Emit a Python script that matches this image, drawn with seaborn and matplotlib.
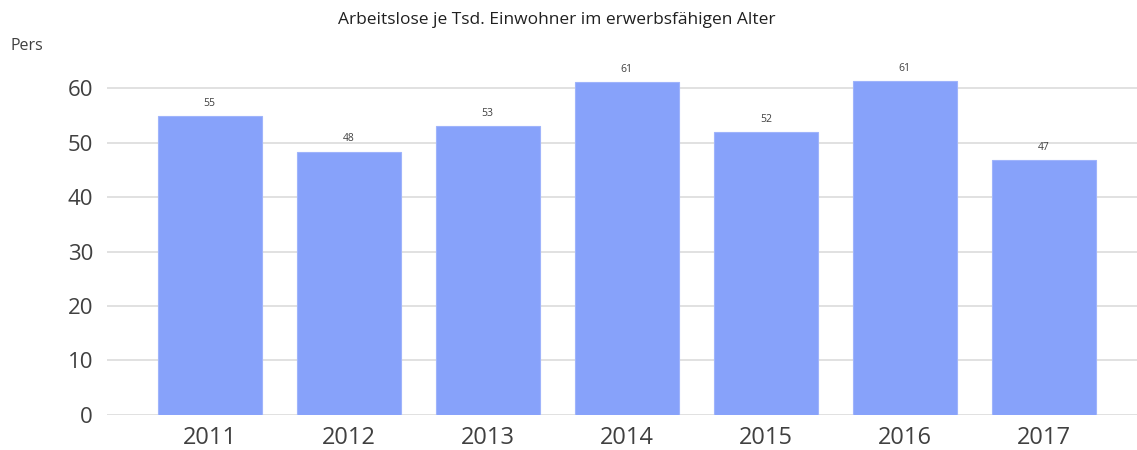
import pandas as pd
import matplotlib.pyplot as plt
import seaborn as sns

years = ["2011", "2012", "2013", "2014", "2015", "2016", "2017"]
values = [54.9, 48.3, 53.0, 61.1, 51.9, 61.3, 46.8]
labels = ["55", "48", "53", "61", "52", "61", "47"]

d = pd.DataFrame({"year": years, "value": values})

sns.set_style("white")
plt.rcParams['font.family'] = ['Open Sans', 'DejaVu Sans']

fig = plt.figure(figsize=(11.37, 4.5), dpi=100)
ax = fig.add_axes([0.094, 0.078, 0.906, 0.786])

sns.barplot(data=d, x="year", y="value", color="#87a2fa", saturation=1,
            width=0.75, ax=ax, zorder=3)
for p in ax.patches:
    p.set_edgecolor("#9fb4fb")
    p.set_linewidth(0.8)

for i, (v, lab) in enumerate(zip(values, labels)):
    ax.text(i, v + 1.4, lab, ha="center", va="bottom", fontsize=7.5, color="#404040")

ax.set_ylim(0, 65)
ax.set_xlim(-0.74, 6.67)
ax.set_yticks(range(0, 61, 10))
ax.yaxis.grid(True, color="#dcdcdc", linewidth=1.2, zorder=0)
ax.set_axisbelow(True)
sns.despine(ax=ax, left=True, bottom=True, top=True, right=True)
ax.tick_params(axis="y", length=0, labelsize=16, colors="#404040", pad=10)
ax.tick_params(axis="x", length=0, labelsize=17, colors="#404040", pad=8)
ax.set_xlabel("")
ax.set_ylabel("")

fig.text(0.49, 0.955, "Arbeitslose je Tsd. Einwohner im erwerbsfähigen Alter",
         ha="center", va="center", fontsize=12.5, color="#202020")
fig.text(0.009, 0.898, "Pers", ha="left", va="center", fontsize=11.5, color="#404040")

fig.savefig("out.png", dpi=100)
